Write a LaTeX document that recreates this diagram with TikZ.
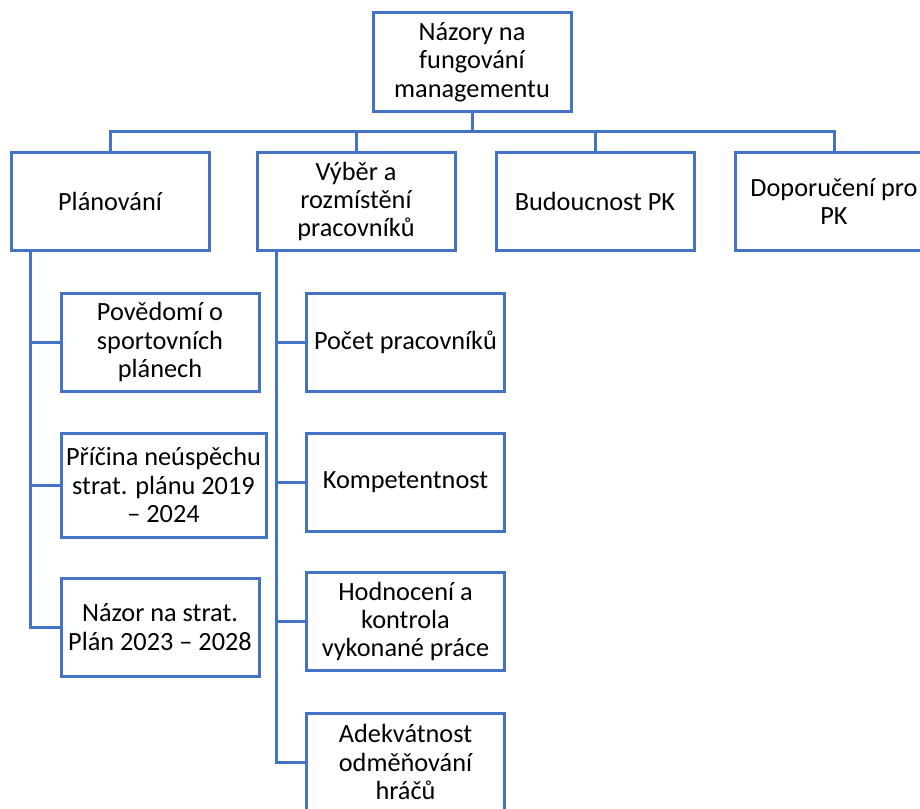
\documentclass[tikz,border=0pt]{standalone}
\usepackage{fontspec}
\setmainfont{Carlito}
\usepackage{tikz}
\definecolor{smartblue}{HTML}{4472C4}

\begin{document}
\begin{tikzpicture}[x=1pt, y=-1pt, line width=3pt,
    box/.style={draw=smartblue, fill=white, align=center, inner sep=0pt,
        minimum width=198pt, minimum height=98pt,
        font=\fontsize{26.3}{28.3}\selectfont},
    link/.style={draw=smartblue}]
            \clip (0,0) rectangle (920,808);

            \node[box] (top) at (472,62) {Názory na\\fungování\\managementu};

            \node[box] (plan) at (110,201.5) {Plánování};
            \node[box] (vyber) at (356,201.5) {Výběr a\\rozmístění\\pracovníků};
            \node[box] (budoucnost) at (595,201.5) {Budoucnost PK};
            \node[box] (doporuceni) at (834,201.5) {Doporučení pro\\PK};

            \node[box] (povedomi) at (160,342) {Povědomí o\\sportovních\\plánech};
            \node[box, minimum width=205pt, minimum height=104pt] (pricina) at (163.5,485) {Příčina neúspěchu\\strat. plánu 2019\\– 2024};
            \node[box] (nazor) at (160,627) {Názor na strat.\\Plán 2023 – 2028};

            \node[box] (pocet) at (405.5,342) {Počet pracovníků};
            \node[box] (kompetence) at (405.5,482) {Kompetentnost};
            \node[box] (hodnoceni) at (405.5,621.5) {Hodnocení a\\kontrola\\vykonané práce};
            \node[box] (adekvatnost) at (405.5,762) {Adekvátnost\\odměňování\\hráčů};

            \draw[link] (top.south) -- (top.south |- 0,132);
            \draw[link] (plan.north) -- ++(0,-20) -| (doporuceni.north);
            \draw[link] (vyber.north) -- (vyber.north |- 0,132);
            \draw[link] (budoucnost.north) -- (budoucnost.north |- 0,132);

            \draw[link] ([xshift=21pt]plan.south west) |- (povedomi.west);
            \draw[link] ([xshift=21pt]plan.south west) |- (pricina.west);
            \draw[link] ([xshift=21pt]plan.south west) |- (nazor.west);

            \draw[link] ([xshift=21pt]vyber.south west) |- (pocet.west);
            \draw[link] ([xshift=21pt]vyber.south west) |- (kompetence.west);
            \draw[link] ([xshift=21pt]vyber.south west) |- (hodnoceni.west);
            \draw[link] ([xshift=21pt]vyber.south west) |- (adekvatnost.west);
        \end{tikzpicture}
\end{document}
